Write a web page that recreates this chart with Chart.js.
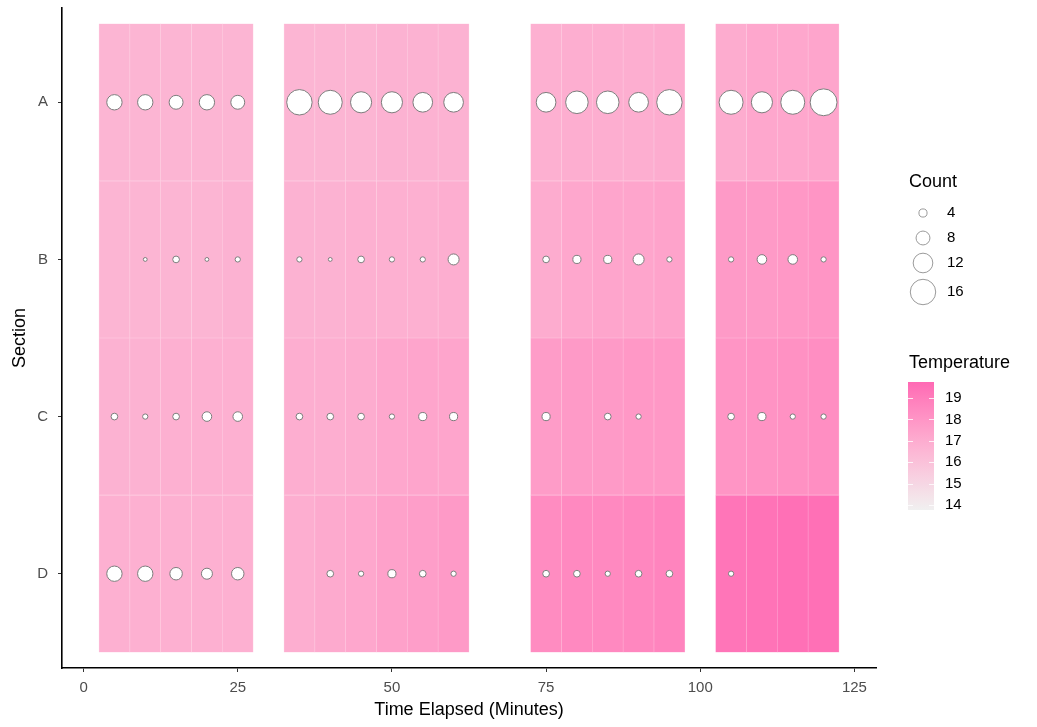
<!DOCTYPE html>
<html>
<head>
<meta charset="utf-8">
<script src="https://cdn.jsdelivr.net/npm/chart.js@4.4.1/dist/chart.umd.min.js"></script>
<style>
  html, body { margin: 0; padding: 0; background: #fff; }
</style>
</head>
<body>
<canvas id="chart" width="1037" height="727"></canvas>
<script>
'use strict';

const sections = ['A', 'B', 'C', 'D'];
const times = [5, 10, 15, 20, 25, 35, 40, 45, 50, 55, 60, 75, 80, 85, 90, 95, 105, 110, 115, 120];
const xTicks = [0, 25, 50, 75, 100, 125];
const countBreaks = [4, 8, 12, 16];
const tempBreaks = [14, 15, 16, 17, 18, 19];

// temperature per tile (one array per section, same order as times)
const tempA = [16.6, 16.6, 16.6, 16.6, 16.6, 16.6, 16.6, 16.6, 16.7, 16.7, 16.7, 16.8, 16.9, 16.9, 16.9, 17.0, 17.0, 17.2, 17.2, 17.3];
const tempB = [16.6, 16.6, 16.6, 16.6, 16.7, 16.7, 16.7, 16.8, 16.8, 16.8, 16.9, 17.0, 17.2, 17.3, 17.3, 17.4, 17.8, 17.8, 17.9, 18.0];
const tempC = [16.7, 16.7, 16.8, 16.8, 16.8, 16.9, 16.9, 17.0, 17.2, 17.3, 17.3, 17.7, 17.8, 17.8, 17.9, 17.9, 18.0, 18.1, 18.2, 18.3];
const tempD = [16.8, 16.8, 16.8, 16.8, 16.8, 16.9, 17.1, 17.2, 17.5, 17.6, 17.8, 18.4, 18.5, 18.5, 18.6, 18.7, 19.3, 19.4, 19.5, 19.5];

// counts per tile (null = no point)
const countA = [9, 9, 8, 9, 8, 16, 15, 13, 13, 12, 12, 12, 14, 14, 12, 16, 15, 13, 15, 17];
const countB = [null, 1, 3, 1, 2, 2, 1, 3, 2, 2, 6, 3, 4, 4, 6, 2, 2, 5, 5, 2];
const countC = [3, 2, 3, 5, 5, 3, 3, 3, 2, 4, 4, 4, null, 3, 2, null, 3, 4, 2, 2];
const countD = [9, 9, 7, 6, 7, null, 3, 2, 4, 3, 2, 3, 3, 2, 3, 3, 2, null, null, null];

const temps = [tempA, tempB, tempC, tempD];
const counts = [countA, countB, countC, countD];

const tempMin = 13.77;
const tempMax = 19.75;
const lowColor = [240, 240, 240];
const highColor = [255, 105, 180];
const font = '"Liberation Sans", Arial, sans-serif';

const radiusFor = c => 1.2 + 0.72 * c;

// colour scale, interpolated in Lab like ggplot
const toLinear = c => {
  c /= 255;
  return c <= 0.04045 ? c / 12.92 : Math.pow((c + 0.055) / 1.055, 2.4);
};
const toSrgb = c => {
  c = c <= 0.0031308 ? 12.92 * c : 1.055 * Math.pow(c, 1 / 2.4) - 0.055;
  return Math.round(Math.min(1, Math.max(0, c)) * 255);
};
const rgbToLab = ([r, g, b]) => {
  const R = toLinear(r), G = toLinear(g), B = toLinear(b);
  const X = (0.4124 * R + 0.3576 * G + 0.1805 * B) / 0.95047;
  const Y = 0.2126 * R + 0.7152 * G + 0.0722 * B;
  const Z = (0.0193 * R + 0.1192 * G + 0.9505 * B) / 1.08883;
  const f = t => (t > 0.008856 ? Math.cbrt(t) : 7.787 * t + 16 / 116);
  const fx = f(X), fy = f(Y), fz = f(Z);
  return [116 * fy - 16, 500 * (fx - fy), 200 * (fy - fz)];
};
const labToRgb = ([L, a, b]) => {
  const fy = (L + 16) / 116, fx = fy + a / 500, fz = fy - b / 200;
  const inv = t => (t ** 3 > 0.008856 ? t ** 3 : (t - 16 / 116) / 7.787);
  const X = inv(fx) * 0.95047, Y = inv(fy), Z = inv(fz) * 1.08883;
  const R = 3.2406 * X - 1.5372 * Y - 0.4986 * Z;
  const G = -0.9689 * X + 1.8758 * Y + 0.0415 * Z;
  const B = 0.0557 * X - 0.2040 * Y + 1.0570 * Z;
  return [toSrgb(R), toSrgb(G), toSrgb(B)];
};
const lowLab = rgbToLab(lowColor);
const highLab = rgbToLab(highColor);

const tempColor = (t, white = 0) => {
  const k = Math.min(1, Math.max(0, (t - tempMin) / (tempMax - tempMin)));
  const rgb = labToRgb(lowLab.map((v, i) => v + (highLab[i] - v) * k));
  const mixed = rgb.map(v => Math.round(v + (255 - v) * white));
  return `rgb(${mixed[0]}, ${mixed[1]}, ${mixed[2]})`;
};

const tileSets = sections.map((name, i) => ({
  type: 'bar',
  label: `Section ${name}`,
  order: 1,
  data: times.map(x => ({ x, y: [i + 0.5, i + 1.5] })),
  backgroundColor: temps[i].map(t => tempColor(t)),
  borderColor: temps[i].map(t => tempColor(t, 0.35)),
  borderWidth: 0.6,
  borderSkipped: false,
  barPercentage: 1,
  categoryPercentage: 1,
  grouped: false,
}));

const points = [];
counts.forEach((row, i) => {
  row.forEach((c, j) => {
    if (c !== null) {
      points.push({ x: times[j], y: i + 1, r: radiusFor(c) });
    }
  });
});

const bubbleSet = {
  type: 'bubble',
  label: 'Count',
  order: 0,
  data: points,
  backgroundColor: '#ffffff',
  borderColor: '#7d7d7d',
  borderWidth: 1,
};

const legendPlugin = {
  id: 'sideLegends',
  afterDraw(chart) {
    const { ctx } = chart;
    ctx.save();
    ctx.textBaseline = 'middle';
    ctx.textAlign = 'left';

    // Count legend
    ctx.fillStyle = '#000';
    ctx.font = `18px ${font}`;
    ctx.fillText('Count', 909, 182);
    const rows = [213, 238, 263, 292];
    countBreaks.forEach((c, i) => {
      ctx.beginPath();
      ctx.arc(923, rows[i], radiusFor(c), 0, Math.PI * 2);
      ctx.fillStyle = '#fff';
      ctx.fill();
      ctx.strokeStyle = '#9a9a9a';
      ctx.lineWidth = 1;
      ctx.stroke();
      ctx.fillStyle = '#000';
      ctx.font = `15px ${font}`;
      ctx.fillText(String(c), 947, rows[i]);
    });

    // Temperature colourbar
    ctx.font = `18px ${font}`;
    ctx.fillText('Temperature', 909, 363);
    const barX = 908, barW = 26, barTop = 382, barBottom = 510;
    const grad = ctx.createLinearGradient(0, barBottom, 0, barTop);
    for (let s = 0; s <= 20; s++) {
      grad.addColorStop(s / 20, tempColor(tempMin + (tempMax - tempMin) * s / 20));
    }
    ctx.fillStyle = grad;
    ctx.fillRect(barX, barTop, barW, barBottom - barTop);
    const yFor = t => barBottom - (t - tempMin) / (tempMax - tempMin) * (barBottom - barTop);
    ctx.strokeStyle = 'rgba(255,255,255,0.8)';
    ctx.lineWidth = 1;
    ctx.font = `15px ${font}`;
    tempBreaks.forEach(t => {
      const y = Math.round(yFor(t)) + 0.5;
      ctx.beginPath();
      ctx.moveTo(barX, y);
      ctx.lineTo(barX + 5, y);
      ctx.moveTo(barX + barW - 5, y);
      ctx.lineTo(barX + barW, y);
      ctx.stroke();
      ctx.fillStyle = '#000';
      ctx.fillText(String(t), 945, yFor(t));
    });
    ctx.restore();
  },
};

new Chart(document.getElementById('chart'), {
  type: 'bar',
  data: { datasets: [bubbleSet, ...tileSets] },
  plugins: [legendPlugin],
  options: {
    responsive: false,
    animation: false,
    devicePixelRatio: 1,
    layout: { autoPadding: false, padding: { top: 8, right: 161, left: 0, bottom: 0 } },
    plugins: {
      legend: { display: false },
      tooltip: { enabled: false },
    },
    scales: {
      x: {
        type: 'linear',
        min: -3.5,
        max: 128.5,
        offset: false,
        afterBuildTicks: scale => {
          scale.ticks = xTicks.map(v => ({ value: v }));
        },
        afterFit: scale => {
          scale.height = 59;
          scale.paddingLeft = 0;
          scale.paddingRight = 0;
        },
        grid: { display: true, drawOnChartArea: false, drawTicks: true, tickLength: 4, tickColor: '#333', offset: false },
        border: { display: true, color: '#000', width: 1.6 },
        ticks: { color: '#4d4d4d', font: { family: font, size: 15 }, padding: 7, maxRotation: 0 },
        title: {
          display: true,
          text: 'Time Elapsed (Minutes)',
          color: '#000',
          font: { family: font, size: 18 },
          padding: { top: 0, bottom: 6 },
        },
      },
      y: {
        type: 'linear',
        reverse: true,
        min: 0.4,
        max: 4.6,
        afterBuildTicks: scale => {
          scale.ticks = sections.map((_, i) => ({ value: i + 1 }));
        },
        afterFit: scale => {
          scale.width = 62;
          scale.paddingTop = 0;
          scale.paddingBottom = 0;
        },
        grid: { display: true, drawOnChartArea: false, drawTicks: true, tickLength: 4, tickColor: '#333' },
        border: { display: true, color: '#000', width: 1.6 },
        ticks: {
          color: '#4d4d4d',
          font: { family: font, size: 15 },
          padding: 10,
          callback: v => sections[v - 1],
        },
        title: {
          display: true,
          text: 'Section',
          color: '#000',
          font: { family: font, size: 18 },
          padding: { top: 9, bottom: 0 },
        },
      },
    },
  },
});
</script>
</body>
</html>
